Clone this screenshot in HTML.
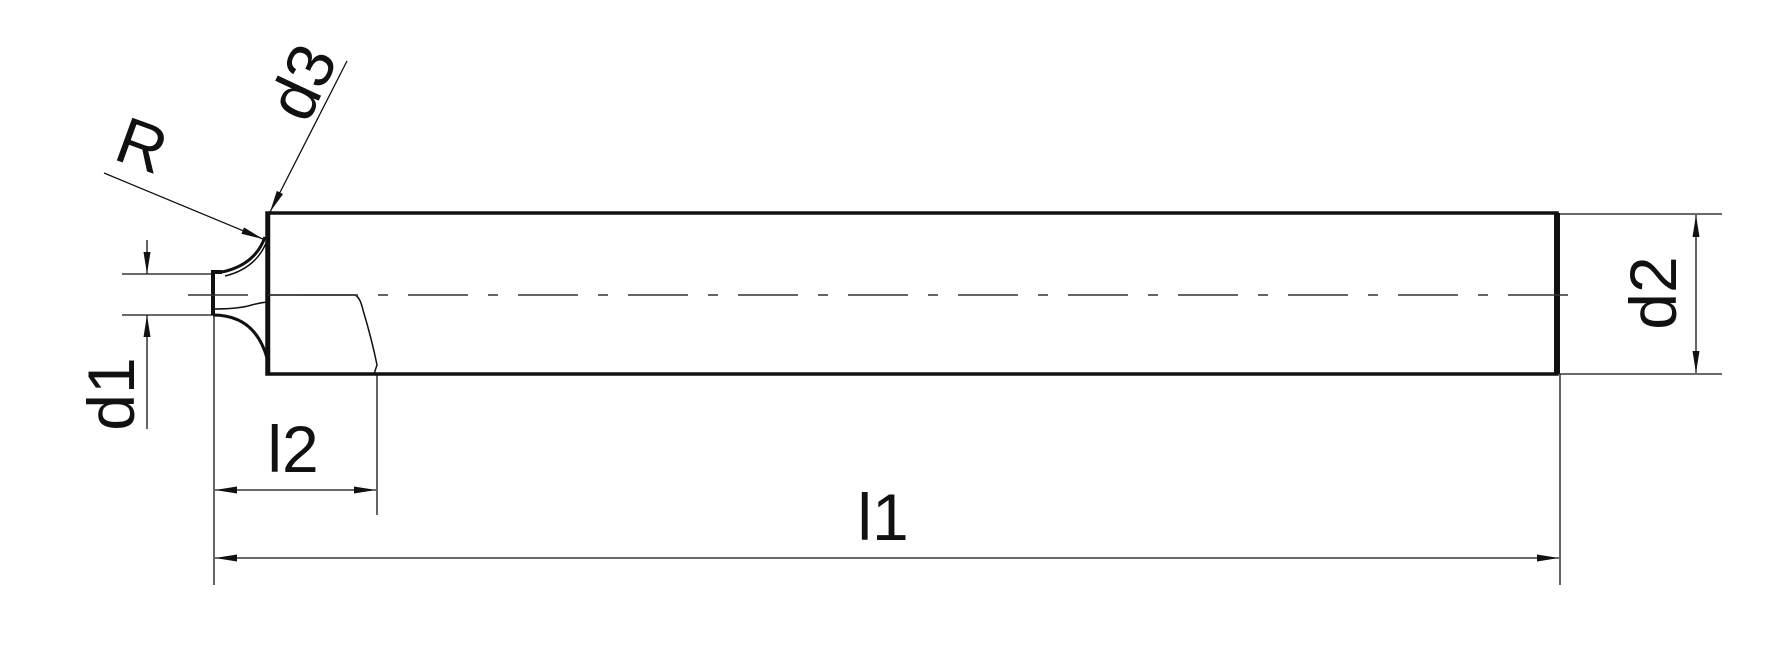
<!DOCTYPE html>
<html><head><meta charset="utf-8"><style>html,body{margin:0;padding:0;background:#fff}svg{display:block}</style></head>
<body>
<svg width="1786" height="656" viewBox="0 0 1786 656" xmlns="http://www.w3.org/2000/svg" font-family="Liberation Sans, sans-serif">
<defs>
<marker id="a" viewBox="0 0 22 10" refX="22" refY="5" markerWidth="22" markerHeight="10" markerUnits="userSpaceOnUse" orient="auto"><path d="M0,1.5 L22,5 L0,8.5 Z" fill="#111"/></marker>
</defs>
<g fill="none" stroke="#111">
<path d="M267,213 H1557 V374 H267 Z" stroke-width="3.5"/>
<line x1="268" y1="213" x2="268" y2="374" stroke-width="4.5"/>
<line x1="1557" y1="213" x2="1557" y2="374" stroke-width="6"/>
<path d="M213,315 V272 H222" stroke-width="4"/>
<path d="M222,272 Q255,265 265,237" stroke-width="3"/>
<path d="M225,276 Q258,268 268,238" stroke-width="1.5"/>
<path d="M213,315 Q255,315 267,358" stroke-width="3"/>
<path d="M213,309 Q235,309 248,306 Q258,303 267,302" stroke-width="1.5"/>
<path d="M267,295 H355 Q360,297 363,310 Q372,340 377,365 L374,374" stroke-width="1.5"/>
<path d="M188,295 H1588" stroke-width="1.5" stroke="#333" stroke-dasharray="60,20,10,20"/>
<g stroke-width="1.3">
<line x1="214" y1="315" x2="214" y2="585"/>
<line x1="377" y1="374" x2="377" y2="515"/>
<line x1="1560" y1="374" x2="1560" y2="585"/>
<line x1="1560" y1="214" x2="1722" y2="214"/>
<line x1="1560" y1="374" x2="1722" y2="374"/>
<line x1="122" y1="274" x2="213" y2="274"/>
<line x1="122" y1="315" x2="213" y2="315"/>
<line x1="147" y1="240" x2="147" y2="274" marker-end="url(#a)"/>
<line x1="147" y1="429" x2="147" y2="315" marker-end="url(#a)"/>
<line x1="300" y1="490" x2="215" y2="490" marker-end="url(#a)"/>
<line x1="300" y1="490" x2="376" y2="490" marker-end="url(#a)"/>
<line x1="880" y1="558" x2="215" y2="558" marker-end="url(#a)"/>
<line x1="880" y1="558" x2="1559" y2="558" marker-end="url(#a)"/>
<line x1="1696" y1="294" x2="1696" y2="215" marker-end="url(#a)"/>
<line x1="1696" y1="294" x2="1696" y2="373" marker-end="url(#a)"/>
<line x1="104" y1="173" x2="263" y2="239" marker-end="url(#a)"/>
<line x1="347" y1="61" x2="270" y2="212" marker-end="url(#a)"/>
</g>
</g>
<g fill="#111" font-size="66">
<text x="0" y="0" text-anchor="middle" dominant-baseline="central" transform="translate(111,394) rotate(-90)">d1</text>
<text x="0" y="0" text-anchor="middle" dominant-baseline="central" transform="translate(1653,293) rotate(-90)">d2</text>
<text x="0" y="0" text-anchor="middle" dominant-baseline="central" transform="translate(302,82) rotate(-65)">d3</text>
<text x="0" y="0" text-anchor="middle" dominant-baseline="central" transform="translate(142,145) rotate(20)">R</text>
<text x="293" y="472" text-anchor="middle">l2</text>
<text x="883" y="540" text-anchor="middle">l1</text>
</g>
</svg>
</body></html>
